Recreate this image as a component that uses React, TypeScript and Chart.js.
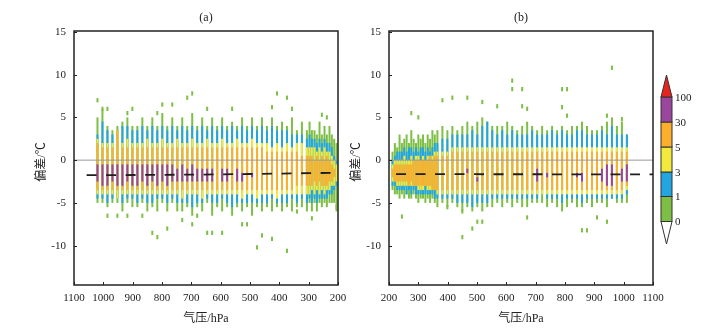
import React, { useEffect, useRef } from 'react';
import { Chart, registerables } from 'chart.js';
Chart.register(...registerables);

// ---------- axes / legend text ----------
const pressureTicks = [200, 300, 400, 500, 600, 700, 800, 900, 1000, 1100];
const biasTicks = [-10, -5, 0, 5, 10, 15];
const levelLabels = ['0', '1', '3', '5', '30', '100'];

// ---------- panel (a) ----------
const pressureA = [1020, 1003, 986, 969, 952, 935, 918, 901, 884, 867,
  850, 833, 816, 799, 782, 765, 748, 731, 714, 697,
  680, 663, 646, 629, 612, 595, 578, 561, 544, 527,
  510, 493, 476, 459, 442, 425, 408, 391, 374, 357,
  340, 323, 306, 297, 289, 280, 272, 263, 255, 246,
  238, 229, 221, 213, 205];
const greenA = [[-5, 5], [-5, 6], [-5.5, 4], [-5, 3.5], [-5, 4], [-6, 4.5], [-5, 5], [-5.5, 4], [-5.5, 4], [-5, 5],
  [-6, 4], [-5.5, 5], [-6, 4], [-5, 5.5], [-6, 4], [-5, 5], [-6, 4], [-6, 5], [-5.5, 4], [-6.5, 5.5],
  [-5.5, 4], [-6, 5], [-5, 4], [-6.5, 5], [-5.5, 4], [-6, 5], [-5.5, 4], [-6.5, 4.5], [-5.5, 4], [-6, 5],
  [-5.5, 4], [-6.5, 5], [-5.5, 4], [-6, 5], [-5.5, 4], [-6, 5], [-5.5, 4], [-6, 4.5], [-5.5, 4], [-6, 5],
  [-5.5, 3.5], [-5.5, 4.5], [-6, 3.5], [-5, 4.5], [-6, 3.5], [-5, 3.5], [-6, 3], [-5, 4.5], [-5.5, 3], [-5, 4],
  [-5.5, 3], [-5, 4], [-5, 3], [-5, 2.5], [-6, 2]];
const blueA = [[-4.5, 3], [-4.5, 4.5], [-5, 3.5], [-4.5, 3], [-4.5, 3.5], [-5, 4], [-4.5, 4], [-4.5, 3.5], [-5, 3.5], [-4.5, 4],
  [-5, 3.5], [-5, 4], [-4.5, 3.5], [-4.5, 4], [-5, 3.5], [-4.5, 4], [-5, 3.5], [-5, 4], [-5, 3.5], [-5.5, 4],
  [-5, 3.5], [-5, 4], [-4.5, 3.5], [-5, 4], [-5, 3.5], [-4.5, 4], [-5, 3.5], [-5.5, 4], [-5, 3.5], [-5, 4],
  [-5, 3.5], [-5, 4], [-5, 3.5], [-5, 4], [-5, 3.5], [-4.5, 4], [-5, 3.5], [-5, 3.5], [-5, 3.5], [-4.5, 3],
  [-5, 3], [-4.5, 3], [-5, 2.5], [-4.5, 3], [-5, 2.5], [-4.5, 2.5], [-5, 2], [-4.5, 2.5], [-4.5, 2], [-4.5, 2.5],
  [-4.5, 2], [-4, 2], [-4, 1.5], [-3.5, 0.5], [-3, 0]];
const yellowA = [[-4, 2.5], [-4, 2], [-4, 2], [-4, 2], [-4.5, 3.5], [-4, 2], [-4, 2.5], [-4, 2], [-4, 2], [-4, 2],
  [-4, 2.5], [-4, 2], [-4, 2], [-4, 2.5], [-4, 2], [-4, 2], [-4, 2.5], [-4.5, 2], [-4, 2], [-4, 2.5],
  [-4, 2], [-4.5, 2], [-4, 2.5], [-4, 2], [-4, 2], [-4, 2.5], [-4, 2], [-4, 2], [-4, 2.5], [-4.5, 2],
  [-4, 2], [-4, 2.5], [-4.5, 2], [-4, 2], [-4, 2], [-4, 1.5], [-4.5, 2], [-4, 1.5], [-4, 2], [-4, 1.5],
  [-4, 2], [-4, 2], [-4, 1.5], [-4, 1.5], [-3.5, 1.5], [-4, 1.5], [-3.5, 1], [-4, 1.5], [-3.5, 1], [-4, 1.5],
  [-3.5, 1], [-3.5, 1], [-3, 0.5], [-3, 0], [-2.5, -0.5]];
const orangeA = [[-3.5, 2], [-3.5, 1.5], [-3.5, 1.5], [-3.5, 1.5], [-3.5, 3.5], [-3.5, 1.5], [-3.5, 1.5], [-3.5, 1.5], [-3.5, 1.5], [-3.5, 1.5],
  [-3.5, 1.5], [-3.5, 1.5], [-3.5, 1.5], [-3.5, 1.5], [-3.5, 1.5], [-3.5, 1.5], [-3.5, 1.5], [-3.5, 1.5], [-3.5, 1.5], [-3.5, 1.5],
  [-3.5, 1.5], [-3.5, 1.5], [-3.5, 1.5], [-3.5, 1.5], [-3.5, 1.5], [-3.5, 1.5], [-3.5, 1.5], [-3.5, 1.5], [-3.5, 1.5], [-3.5, 1.5],
  [-3.5, 1.5], [-3.5, 1.5], [-3.5, 1.5], [-3.5, 1.5], [-3.5, 1], [-3.5, 1], [-3.5, 1], [-3.5, 1], [-3.5, 1], [-3.5, 1],
  [-3, 1], [-3, 0.5], [-3, 0.5], [-3, 0.5], [-3, 0.5], [-2.5, 0], [-3, 0.5], [-2.5, 0], [-3, 0.5], [-3, 0],
  [-3, 0.5], [-2.5, 0], [-2.5, -0.5], [-2, -1], null];
const purpleA = [[-2.5, -0.5], [-3, -0.5], [-3, -0.5], [-2.5, -0.5], [-3, -0.5], [-3, -0.5], [-2.5, -0.5], [-3, -0.5], [-3, -0.5], [-2.5, -0.5],
  [-3, -0.5], [-2.5, -0.5], [-3, -0.5], [-2.5, -0.5], [-3, -0.5], [-2.5, -0.5], [-2.5, -1], [-2.5, -0.5], [-2.5, -1], [-2.5, -0.5],
  [-2.5, -1], [-2.5, -1], [-2.5, -1], [-2.5, -1], null, [-2.5, -1], [-2.5, -1], null, [-2.5, -1], [-2.5, -1.5],
  null, [-2, -1.5], null, null, null, null, null, null, null, null,
  null, null, null, null, null, null, null, null, null, null,
  null, null, null, null, null];
const isolatedA = [[1020, 7], [1003, 6], [986, 6], [986, -6.5], [952, -6.5], [918, 5.5], [918, -6.5], [901, 6], [867, -6.5],
  [833, -8.5], [816, -9], [816, 5.5], [799, 6.5], [782, -8], [765, 6.5], [731, -7], [714, 7.3], [697, 7.8], [697, -7.5],
  [680, -6.5], [646, 6], [646, -8.5], [629, -8.5], [595, -8.5], [561, 6], [527, -7.5], [510, -7.5], [476, -10.2],
  [459, -8.8], [425, -9.2], [408, 7.8], [425, 6.2], [374, 7.3], [374, -10.6], [357, 6], [340, -6], [289, -6.8],
  [255, 5.3], [238, 5], [205, -5.5]];
const meanA = [[1057, -1.76], [900, -1.74], [700, -1.7], [500, -1.62], [300, -1.52], [200, -1.48]];

// ---------- panel (b) ----------
const pressureB = [212, 220, 228, 236, 244, 252, 260, 268, 276, 284, 292, 300, 308, 316, 324, 332, 340, 348, 356,
  365, 382, 399, 416, 433, 450, 467, 484, 501, 518, 535, 552, 569, 586, 603, 620, 637, 654, 671, 688,
  705, 722, 739, 756, 773, 790, 807, 824, 841, 858, 875, 892, 909, 926, 943, 960, 977, 994, 1011];
const greenB = [[-3.5, 1], [-4, 2], [-4, 1.5], [-4.5, 3], [-4, 2], [-4.5, 2.5], [-4, 3], [-4.5, 2], [-4.5, 3.5], [-4, 2.5],
  [-4.5, 2], [-5, 3], [-4.5, 2.5], [-4.5, 3], [-5, 2], [-4.5, 3], [-5, 2.5], [-4.5, 3.5], [-5, 3],
  [-5.5, 3.5], [-5, 4], [-5.5, 3.5], [-5, 4], [-5.5, 3.5], [-6, 4], [-5.5, 4.5], [-6, 4], [-5.5, 4.5], [-6, 5],
  [-5.5, 4.5], [-5.5, 4], [-5, 4], [-5.5, 4], [-5, 4.5], [-5.5, 4], [-5, 3.5], [-5.5, 4], [-5.5, 4.5], [-5, 4],
  [-5, 3.5], [-5, 4], [-5.5, 3.5], [-5, 4], [-5.5, 3.5], [-6, 4], [-5.5, 3.5], [-5, 4], [-5.5, 4], [-5.5, 4.5],
  [-5, 4], [-5.5, 3.5], [-5, 3.5], [-5, 4], [-5.5, 4.5], [-4.5, 5], [-5, 4], [-5, 4.5], [-5, 3]];
const blueB = [[-3, 0], [-3, 0.5], [-3.5, 1], [-3.5, 1], [-3.5, 1], [-3.5, 1.5], [-4, 1], [-3.5, 1.5], [-4, 1.5], [-3.5, 1],
  [-4, 1.5], [-4, 1], [-4, 1.5], [-4, 1.5], [-4, 1], [-4, 1.5], [-4, 1], [-4, 1.5], [-4.5, 2],
  [-4.5, 2], [-4.5, 2.5], [-4.5, 2.5], [-4.5, 3], [-5, 3], [-5, 3], [-5, 3], [-5.5, 3.5], [-5, 3], [-5, 4],
  [-5, 4.5], [-4.5, 3.5], [-4.5, 3], [-4.5, 3.5], [-4.5, 3], [-4.5, 3.5], [-4.5, 3], [-4.5, 3], [-4.5, 3], [-4.5, 3.5],
  [-4.5, 3], [-4, 3], [-4.5, 3], [-4.5, 3.5], [-4.5, 3], [-5, 3.5], [-4.5, 3], [-4.5, 3], [-4.5, 3.5], [-5, 3.5],
  [-4.5, 3], [-4.5, 3], [-4.5, 3], [-4.5, 3.5], [-4.5, 3], [-4.5, 4], [-4.5, 3], [-4.5, 3], [-4, 3]];
const yellowB = [[-2.5, -0.5], [-2.5, 0], [-3, 0], [-3, 0], [-3, 0], [-3, 0.5], [-3, 0], [-3, 0], [-3, 0.5], [-3, 0],
  [-3, 0.5], [-3.5, 0.5], [-3.5, 0], [-3.5, 0.5], [-3, 0], [-3.5, 0.5], [-3.5, 0.5], [-3.5, 0.5], [-3.5, 1],
  [-4, 1], [-4, 1], [-4, 1], [-4, 1.5], [-4, 1.5], [-4, 1.5], [-4, 1.5], [-4, 1.5], [-4, 1.5], [-4, 1.5],
  [-4, 1.5], [-4, 1.5], [-4, 1.5], [-4, 1.5], [-4, 1.5], [-4, 1.5], [-4, 1.5], [-4, 1.5], [-4, 1.5], [-4, 1.5],
  [-4, 1.5], [-4, 1.5], [-4, 1.5], [-4, 1.5], [-4, 1.5], [-4, 1.5], [-4, 1.5], [-4, 1.5], [-4, 1.5], [-4, 1.5],
  [-4, 1.5], [-4, 1.5], [-4, 1.5], [-4, 1.5], [-4, 1.5], [-4, 1.5], [-4, 1.5], [-4, 1.5], [-3.5, 1.5]];
const orangeB = [[-2, -1], [-2.5, -0.5], [-2.5, -0.5], [-2.5, -0.5], [-2.5, -0.5], [-2.5, -0.5], [-2.5, -0.5], [-3, -0.5], [-2.5, -0.5], [-3, 0],
  [-3, 0], [-3, 0], [-3, 0], [-3, 0], [-3, 0], [-3, 0], [-3, 0.5], [-3.5, 0], [-3.5, 0.5],
  [-3.5, 0.5], [-3.5, 0.5], [-3.5, 0.5], [-3.5, 1], [-3.5, 1], [-3.5, 1], [-3.5, 1], [-3.5, 1], [-3.5, 1], [-3.5, 1],
  [-3.5, 1], [-3.5, 1], [-3.5, 1], [-3.5, 1], [-3.5, 1], [-3.5, 1], [-3.5, 1], [-3.5, 1], [-3.5, 1], [-3.5, 1],
  [-3.5, 1], [-3.5, 1], [-3.5, 1], [-3.5, 1], [-3.5, 1], [-3.5, 1], [-3.5, 1], [-3.5, 1], [-3.5, 1], [-3.5, 1],
  [-3.5, 1], [-3.5, 1], [-3.5, 1], [-3.5, 1], [-3.5, 1], [-3.5, 1], [-3.5, 1], [-3.5, 1], [-3, 1]];
const purpleB = [[467, -1.5, -1], [501, -2.5, -2], [705, -2.5, -1], [739, -2, -1.5], [841, -2, -1.5], [858, -2.5, -1.5],
  [926, -2.5, -1], [943, -3, -0.5], [960, -3, -0.5], [994, -2.5, -1], [1011, -2.5, -0.5]];
const isolatedB = [[244, -6.6], [276, 5.5], [300, 5], [382, 7], [416, 7.3], [399, -5.5], [450, -6], [450, -9], [484, -8],
  [501, -7.2], [518, -7.2], [467, 7.3], [518, 6.8], [569, 6.3], [620, 9.3], [620, 8.3], [654, 8.3], [654, 6.3],
  [671, 6], [671, -6.7], [790, 8.3], [790, 6.2], [807, 8.3], [807, 5.2], [858, -8.2], [875, -8.2], [909, -6.7],
  [943, -7.2], [960, 10.8], [943, 5.2], [994, 4.8]];
const meanB = [[224, -1.64], [600, -1.65], [1100, -1.66]];

// ---------- styling ----------
const C = {
  green: '#7cbf44', blue: '#23a6e0', yellow: '#f2e93c', orange: '#fbaf2c', purple: '#9a469d', red: '#e5231f',
};
const SERIF = '"Liberation Serif", "Times New Roman", serif';
const CJK = '"Liberation Serif", "Noto Sans CJK SC", serif';

const band = (ps: number[], rs: (number[] | null)[]) =>
  ps.flatMap((p, i) => (rs[i] ? [{ x: p, y: [rs[i]![0], rs[i]![1]] }] : []));
const spots = (list: number[][]) => list.map(([p, v]) => ({ x: p, y: [v - 0.25, v + 0.25] }));
const ranged = (list: number[][]) => list.map(([p, lo, hi]) => ({ x: p, y: [lo, hi] }));
const pts = (list: number[][]) => list.map(([x, y]) => ({ x, y }));

const barDs = (data: any[], color: string, order: number) => ({
  type: 'bar', data, backgroundColor: color, borderWidth: 0, barThickness: 2, inflateAmount: 0, grouped: false, order,
});

function decor(title: string, withBar: boolean) {
  return {
    id: 'decor' + title,
    afterDraw(chart: any) {
      const { ctx, chartArea: a, scales } = chart;
      ctx.save();
      ctx.strokeStyle = '#222';
      ctx.lineWidth = 1;
      ctx.beginPath();
      for (const v of pressureTicks) {
        const px = Math.round(scales.x.getPixelForValue(v)) + 0.5;
        ctx.moveTo(px, a.bottom);
        ctx.lineTo(px, a.bottom - 3);
      }
      for (const v of biasTicks) {
        const py = Math.round(scales.y.getPixelForValue(v)) + 0.5;
        ctx.moveTo(a.left, py);
        ctx.lineTo(a.left + 3, py);
      }
      ctx.stroke();
      ctx.lineWidth = 1.5;
      ctx.strokeRect(a.left, a.top, a.right - a.left, a.bottom - a.top);

      ctx.fillStyle = '#222';
      ctx.textAlign = 'center';
      ctx.textBaseline = 'middle';
      ctx.font = '12px ' + SERIF;
      ctx.fillText(title, (a.left + a.right) / 2, 18);
      ctx.font = '12px ' + CJK;
      ctx.fillText('气压/hPa', (a.left + a.right) / 2, 319);
      ctx.save();
      ctx.translate(a.left - 32, (a.top + a.bottom) / 2 + 4);
      ctx.rotate(-Math.PI / 2);
      ctx.fillText('偏差/℃', 0, 0);
      ctx.restore();

      if (withBar) {
        const x0 = 661, w = 11, cx = x0 + w / 2;
        const edges = [221.5, 196.5, 172, 147, 122, 97];
        const fills = [C.green, C.blue, C.yellow, C.orange, C.purple];
        ctx.lineWidth = 1;
        ctx.strokeStyle = '#333';
        for (let i = 0; i < fills.length; i++) {
          ctx.fillStyle = fills[i];
          ctx.fillRect(x0, edges[i + 1], w, edges[i] - edges[i + 1]);
          ctx.strokeRect(x0, edges[i + 1], w, edges[i] - edges[i + 1]);
        }
        ctx.beginPath();
        ctx.moveTo(x0, 97); ctx.lineTo(cx, 75); ctx.lineTo(x0 + w, 97); ctx.closePath();
        ctx.fillStyle = C.red; ctx.fill(); ctx.stroke();
        ctx.beginPath();
        ctx.moveTo(x0, 221.5); ctx.lineTo(cx, 244); ctx.lineTo(x0 + w, 221.5); ctx.closePath();
        ctx.fillStyle = '#fff'; ctx.fill(); ctx.stroke();
        ctx.fillStyle = '#222';
        ctx.textAlign = 'left';
        ctx.font = '11px ' + SERIF;
        levelLabels.forEach((t, i) => ctx.fillText(t, 675, edges[i] + 1));
      }
      ctx.restore();
    },
  };
}

function makeConfig(panel: 'a' | 'b'): any {
  const isA = panel === 'a';
  const ps = isA ? pressureA : pressureB;
  const datasets: any[] = [
    { type: 'line', data: pts([[200, 0], [1100, 0]]), borderColor: '#9a9a9a', borderWidth: 1, pointRadius: 0, order: 0 },
    {
      type: 'line', data: pts(isA ? meanA : meanB), borderColor: '#1e1e1e', borderWidth: 1.8,
      borderDash: [10, 9.5], pointRadius: 0, order: 1,
    },
    barDs(isA ? band(ps, purpleA) : ranged(purpleB), C.purple, 2),
    barDs(band(ps, isA ? orangeA : orangeB), C.orange, 3),
    barDs(band(ps, isA ? yellowA : yellowB), C.yellow, 4),
    barDs(band(ps, isA ? blueA : blueB), C.blue, 5),
    barDs(band(ps, isA ? greenA : greenB), C.green, 6),
    barDs(spots(isA ? isolatedA : isolatedB), C.green, 7),
  ];
  const tickFont = { family: SERIF, size: 11 };
  return {
    type: 'bar',
    data: { datasets },
    options: {
      animation: false,
      responsive: false,
      maintainAspectRatio: false,
      events: [],
      layout: { padding: isA ? { left: 0, right: 378, top: 31, bottom: 0 } : { left: 315, right: 63, top: 31, bottom: 0 } },
      plugins: { legend: { display: false }, tooltip: { enabled: false }, title: { display: false } },
      scales: {
        x: {
          type: 'linear', min: 200, max: 1100, reverse: isA, offset: false,
          afterBuildTicks: (s: any) => { s.ticks = pressureTicks.map((v) => ({ value: v })); },
          afterFit: (s: any) => { s.height = 46; },
          grid: { display: false, drawTicks: false, offset: false },
          border: { display: false },
          ticks: {
            autoSkip: false, maxRotation: 0, minRotation: 0, padding: 7, color: '#222', font: tickFont,
            callback: (v: any) => String(v),
          },
        },
        y: {
          type: 'linear', min: -14.6, max: 15.1,
          afterBuildTicks: (s: any) => { s.ticks = biasTicks.map((v) => ({ value: v })); },
          afterFit: (s: any) => { s.width = 74; },
          grid: { display: false, drawTicks: false },
          border: { display: false },
          ticks: { padding: 8, color: '#222', font: tickFont, callback: (v: any) => String(v) },
        },
      },
    },
    plugins: [decor(isA ? '(a)' : '(b)', !isA)],
  };
}

export default function App() {
  const refA = useRef<HTMLCanvasElement>(null);
  const refB = useRef<HTMLCanvasElement>(null);
  useEffect(() => {
    const ca = new Chart(refA.current!, makeConfig('a'));
    const cb = new Chart(refB.current!, makeConfig('b'));
    return () => { ca.destroy(); cb.destroy(); };
  }, []);
  return (
    <div style={{ position: 'fixed', left: 0, top: 0, width: 716, height: 331, background: '#fff' }}>
      <canvas ref={refA} width={716} height={331} style={{ position: 'absolute', left: 0, top: 0 }} />
      <canvas ref={refB} width={716} height={331} style={{ position: 'absolute', left: 0, top: 0 }} />
    </div>
  );
}
